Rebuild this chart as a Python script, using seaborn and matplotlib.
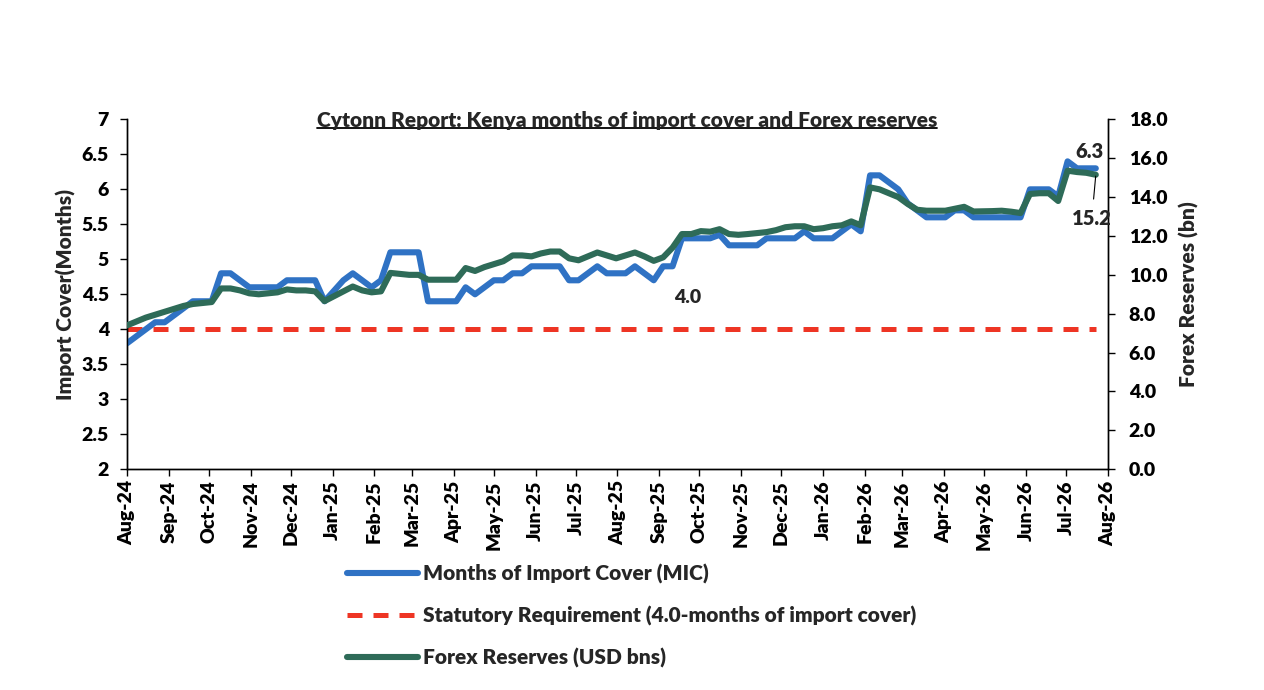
# ======================
# Import Libraries
# ======================

import pandas as pd
import numpy as np
import matplotlib
matplotlib.use("Agg")
import matplotlib.pyplot as plt
import matplotlib.dates as mdates
from matplotlib.lines import Line2D
from matplotlib.ticker import MultipleLocator, FormatStrFormatter, FuncFormatter
import seaborn as sns

# ======================
# Data (weekly readings)
# ======================

start_date = "2024-08-01"

mic = [
    3.8, 3.9, 4.0, 4.1, 4.1, 4.2, 4.3, 4.4, 4.4, 4.4,
    4.8, 4.8, 4.7, 4.6, 4.6, 4.6, 4.6, 4.7, 4.7, 4.7,
    4.7, 4.4, 4.55, 4.7, 4.8, 4.7, 4.6, 4.7, 5.1, 5.1,
    5.1, 5.1, 4.4, 4.4, 4.4, 4.4, 4.6, 4.5, 4.6, 4.7,
    4.7, 4.8, 4.8, 4.9, 4.9, 4.9, 4.9, 4.7, 4.7, 4.8,
    4.9, 4.8, 4.8, 4.8, 4.9, 4.8, 4.7, 4.9, 4.9, 5.3,
    5.3, 5.3, 5.3, 5.35, 5.2, 5.2, 5.2, 5.2, 5.3, 5.3,
    5.3, 5.3, 5.4, 5.3, 5.3, 5.3, 5.4, 5.5, 5.4, 6.2,
    6.2, 6.1, 6.0, 5.8, 5.7, 5.6, 5.6, 5.6, 5.7, 5.7,
    5.6, 5.6, 5.6, 5.6, 5.6, 5.6, 6.0, 6.0, 6.0, 5.9,
    6.4, 6.3, 6.3, 6.3,
]

forex = [
    7.4, 7.6, 7.8, 7.95, 8.1, 8.25, 8.4, 8.5, 8.55, 8.6,
    9.3, 9.3, 9.2, 9.05, 9.0, 9.05, 9.1, 9.25, 9.2, 9.2,
    9.15, 8.65, 8.9, 9.15, 9.4, 9.2, 9.1, 9.15, 10.1, 10.05,
    10.0, 10.0, 9.75, 9.75, 9.75, 9.75, 10.35, 10.2, 10.4, 10.55,
    10.7, 11.0, 11.0, 10.95, 11.1, 11.2, 11.2, 10.85, 10.75, 10.95,
    11.15, 11.0, 10.85, 11.0, 11.15, 10.95, 10.72, 10.9, 11.4, 12.1,
    12.1, 12.25, 12.22, 12.35, 12.1, 12.06, 12.1, 12.15, 12.2, 12.3,
    12.45, 12.5, 12.5, 12.35, 12.4, 12.5, 12.55, 12.75, 12.55, 14.5,
    14.4, 14.2, 14.0, 13.65, 13.35, 13.3, 13.3, 13.3, 13.4, 13.5,
    13.26, 13.27, 13.28, 13.3, 13.25, 13.18, 14.16, 14.2, 14.2, 13.8,
    15.36, 15.29, 15.25, 15.15,
]

statutory = [4.0] * len(mic)

dates = pd.date_range(start_date, periods=len(mic), freq="7D")

df = pd.DataFrame({
    "date": dates,
    "mic": mic,
    "forex": forex,
    "statutory": statutory,
})

title = "Cytonn Report: Kenya months of import cover and Forex reserves"
label_mic = "Months of Import Cover (MIC)"
label_stat = "Statutory Requirement (4.0-months of import cover)"
label_fx = "Forex Reserves (USD bns)"

# ======================
# Style
# ======================

sns.set_style("ticks")
plt.rcParams["font.family"] = ["Lato", "DejaVu Sans"]
plt.rcParams["font.weight"] = "heavy"

blue = "#2F72C4"
green = "#2E6B58"
red = "#EE3524"
fw = "heavy"

# ======================
# Plot
# ======================

fig = plt.figure(figsize=(12.64, 6.9), dpi=100)
ax = fig.add_axes([0.1005, 0.320, 0.776, 0.507])

sns.lineplot(data=df, x="date", y="statutory", ax=ax, color=red,
             linewidth=3.6, linestyle=(0, (3, 2.2)), zorder=2)
sns.lineplot(data=df, x="date", y="mic", ax=ax, color=blue,
             linewidth=4.4, zorder=3)

ax2 = ax.twinx()
sns.lineplot(data=df, x="date", y="forex", ax=ax2, color=green,
             linewidth=4.4, zorder=3)

# axes ranges
ax.set_xlim(pd.Timestamp("2024-08-01"), pd.Timestamp("2026-08-01"))
ax.set_ylim(2, 7)
ax2.set_ylim(0, 18)

ax.xaxis.set_major_locator(mdates.MonthLocator())
ax.xaxis.set_major_formatter(mdates.DateFormatter("%b-%y"))
ax.yaxis.set_major_locator(MultipleLocator(0.5))
ax.yaxis.set_major_formatter(FuncFormatter(lambda v, p: f"{v:g}"))
ax2.yaxis.set_major_locator(MultipleLocator(2))
ax2.yaxis.set_major_formatter(FormatStrFormatter("%.1f"))

for a in (ax, ax2):
    a.spines["top"].set_visible(False)
    for s in a.spines.values():
        s.set_linewidth(1.0)
        s.set_color("black")
    a.tick_params(length=5, width=1, colors="black", labelsize=14)
ax.tick_params(axis="y", pad=8)
ax.tick_params(axis="x", pad=3)
ax2.tick_params(axis="y", pad=10)

for lbl in ax.get_xticklabels():
    lbl.set_rotation(90)
    lbl.set_fontweight(fw)
for lbl in ax.get_yticklabels() + ax2.get_yticklabels():
    lbl.set_fontweight(fw)

ax.set_xlabel("")
ax.set_ylabel("Import Cover(Months)", fontsize=15, fontweight=fw, labelpad=4)
ax2.set_ylabel("Forex Reserves (bn)", fontsize=15, fontweight=fw, labelpad=8)

# ======================
# Annotations
# ======================

ax.annotate("4.0", xy=(pd.Timestamp("2025-09-22"), 4.46), ha="center", va="center",
            fontsize=14, fontweight=fw)
ax2.annotate("6.3", xy=(dates[-1], forex[-1]), xytext=(-6, 23),
             textcoords="offset pixels", ha="center", va="center",
             fontsize=14.5, fontweight=fw)
ax2.annotate("15.2", xy=(dates[-1], forex[-1]), xytext=(-4, -44),
             textcoords="offset pixels", ha="center", va="center",
             fontsize=14.5, fontweight=fw,
             arrowprops=dict(arrowstyle="-", color="black", lw=0.8,
                             shrinkA=5, shrinkB=1))

# ======================
# Title with underline
# ======================

t = fig.text(0.496, 0.826, title, ha="center", va="center",
             fontsize=15, fontweight=fw)

# ======================
# Legend
# ======================

handles = [
    Line2D([], [], color=blue, linewidth=4.4),
    Line2D([], [], color=red, linewidth=3.6, linestyle=(0, (3, 2.2))),
    Line2D([], [], color=green, linewidth=4.4),
]
fig.legend(handles, [label_mic, label_stat, label_fx],
           loc="upper left", bbox_to_anchor=(0.268, 0.195),
           frameon=False, handlelength=3.4,
           handletextpad=0.25, labelspacing=1.05, borderaxespad=0,
           prop={"weight": fw, "size": 15})

fig.canvas.draw()
bb = t.get_window_extent().transformed(fig.transFigure.inverted())
fig.add_artist(Line2D([bb.x0, bb.x1], [bb.y0 + 0.002, bb.y0 + 0.002],
                      color="black", linewidth=1.3, transform=fig.transFigure))

fig.savefig("out.png", dpi=100)
